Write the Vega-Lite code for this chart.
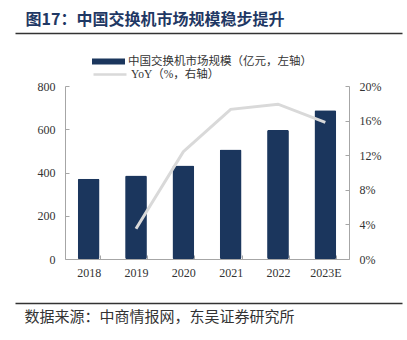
{
  "$schema": "https://vega.github.io/schema/vega-lite/v6.json",
  "width": 284,
  "height": 173,
  "autosize": {"type": "none"},
  "padding": {"left": 65, "top": 86, "right": 58, "bottom": 81},
  "background": "white",
  "config": {
    "view": {"stroke": null},
    "font": "Liberation Serif",
    "axis": {"grid": false, "labelFont": "Liberation Serif", "labelFontSize": 12, "labelColor": "#333333", "domainColor": "#a6a6a6", "tickColor": "#a6a6a6"},
    "legend": {"padding": 0, "labelFont": "Liberation Serif, Noto Sans CJK SC", "labelFontSize": 11.5, "labelColor": "#333333", "labelOffset": 3, "labelLimit": 0}
  },
  "data": {
    "values": [
      {"year": "2018", "size": 371, "yoy": null},
      {"year": "2019", "size": 386, "yoy": 0.035},
      {"year": "2020", "size": 432, "yoy": 0.124},
      {"year": "2021", "size": 506, "yoy": 0.173},
      {"year": "2022", "size": 596, "yoy": 0.179},
      {"year": "2023E", "size": 688, "yoy": 0.158}
    ]
  },
  "layer": [
    {
      "layer": [
        {
          "mark": {"type": "bar", "cornerRadius": 1.5},
          "encoding": {
            "x": {"field": "year", "type": "ordinal", "sort": null, "scale": {"paddingInner": 0.54, "paddingOuter": 0.27},
              "axis": {"title": null, "labelAngle": 0, "tickBand": "extent", "tickSize": -4, "labelPadding": 12}},
            "y": {"field": "size", "type": "quantitative", "scale": {"domain": [0, 800], "nice": false},
              "axis": {"orient": "left", "title": null, "values": [0, 200, 400, 600, 800], "tickSize": -4, "labelPadding": 14}},
            "fill": {"datum": "中国交换机市场规模（亿元，左轴）", "type": "nominal", "scale": {"range": ["#1b365d"]},
              "legend": {"title": null, "orient": "none", "legendX": 27, "legendY": -41, "symbolType": "M-1,-0.18H1V0.18H-1Z", "symbolSize": 1089, "symbolStrokeWidth": 0}}
          }
        },
        {
          "mark": {"type": "line", "strokeWidth": 3, "strokeCap": "butt"},
          "encoding": {
            "x": {"field": "year", "type": "ordinal", "sort": null},
            "y": {"field": "yoy", "type": "quantitative", "scale": {"domain": [0, 0.2], "nice": false},
              "axis": {"orient": "right", "title": null, "format": ".0%", "values": [0, 0.04, 0.08, 0.12, 0.16, 0.2], "tickSize": -4, "labelPadding": 14}},
            "stroke": {"datum": "YoY（%，右轴）", "type": "nominal", "scale": {"range": ["#d9d9d9"]},
              "legend": {"title": null, "orient": "none", "legendX": 27, "legendY": -29.5, "symbolType": "stroke", "symbolSize": 1089, "symbolStrokeWidth": 2.5}}
          }
        }
      ],
      "resolve": {"scale": {"y": "independent"}}
    },
    {
      "mark": {"type": "point", "opacity": 0},
      "encoding": {
        "x": {"field": "size", "type": "quantitative", "scale": {"domain": [0, 1000], "range": [-50, 337], "zero": false, "nice": false},
          "axis": {"orient": "top", "offset": 53, "labels": false, "ticks": false, "domainColor": "#333333", "domainWidth": 1.5,
            "title": "图17：中国交换机市场规模稳步提升", "titleFont": "Noto Sans CJK SC", "titleFontSize": 16, "titleFontWeight": "bold", "titleColor": "#1f3864",
            "titleAlign": "left", "titleAnchor": "start", "titleBaseline": "alphabetic", "titleX": -40, "titleY": -9}}
      }
    },
    {
      "mark": {"type": "point", "opacity": 0},
      "encoding": {
        "x": {"field": "size", "type": "quantitative", "scale": {"domain": [0, 1000], "range": [-50, 337], "zero": false, "nice": false},
          "axis": {"orient": "bottom", "offset": 44, "labels": false, "ticks": false, "domainColor": "#333333", "domainWidth": 1.5,
            "title": "数据来源：中商情报网，东吴证券研究所", "titleFont": "Noto Sans CJK SC", "titleFontSize": 15, "titleFontWeight": "normal", "titleColor": "#333333",
            "titleAlign": "left", "titleAnchor": "start", "titleBaseline": "alphabetic", "titleX": -41, "titleY": 18.5}}
      }
    }
  ],
  "resolve": {"scale": {"x": "independent", "y": "independent"}}
}
